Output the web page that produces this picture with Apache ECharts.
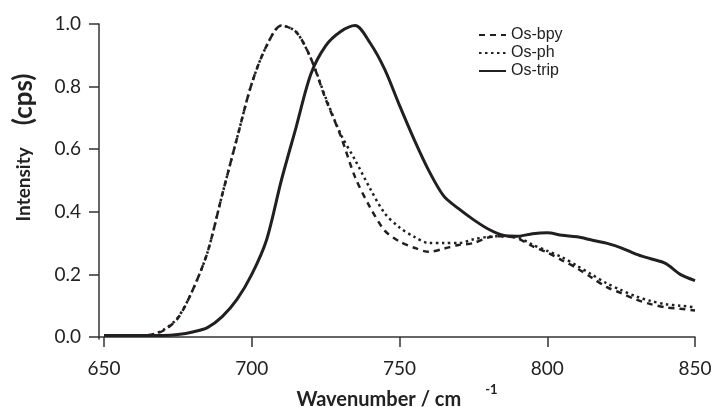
<!DOCTYPE html>
<html>
<head>
<meta charset="utf-8">
<script src="https://cdn.jsdelivr.net/npm/echarts@6/dist/echarts.min.js"></script>
<style>
  html, body { margin: 0; padding: 0; background: #fff; }
  #show_picture { width: 714px; height: 407px; }
</style>
</head>
<body>
<div id="show_picture"></div>
<script>
// wavenumber grid (cm^-1)
const wavenumbers = [650, 655, 660, 665, 670, 675, 680, 685, 690, 695,
  700, 705, 710, 715, 720, 725, 730, 735, 740, 745,
  750, 755, 760, 765, 770, 775, 780, 785, 790, 795,
  800, 805, 810, 815, 820, 825, 830, 835, 840, 845, 850];

const osBpy = [0.005, 0.005, 0.005, 0.006, 0.02, 0.06, 0.15, 0.27, 0.455, 0.635,
  0.81, 0.93, 0.995, 0.975, 0.89, 0.76, 0.645, 0.51, 0.415, 0.34,
  0.305, 0.285, 0.272, 0.282, 0.294, 0.30, 0.318, 0.322, 0.315, 0.29,
  0.27, 0.245, 0.22, 0.19, 0.16, 0.14, 0.12, 0.105, 0.095, 0.09, 0.085];

const osPh = [0.005, 0.005, 0.005, 0.006, 0.022, 0.062, 0.15, 0.27, 0.455, 0.635,
  0.81, 0.93, 0.995, 0.975, 0.89, 0.765, 0.65, 0.565, 0.475, 0.395,
  0.35, 0.32, 0.30, 0.30, 0.30, 0.312, 0.32, 0.322, 0.318, 0.295,
  0.275, 0.255, 0.228, 0.2, 0.172, 0.15, 0.13, 0.115, 0.105, 0.1, 0.095];

const osTrip = [0.005, 0.005, 0.005, 0.005, 0.005, 0.008, 0.016, 0.03, 0.065, 0.12,
  0.2, 0.31, 0.5, 0.67, 0.84, 0.93, 0.975, 0.995, 0.94, 0.855,
  0.74, 0.63, 0.53, 0.45, 0.41, 0.375, 0.345, 0.325, 0.322, 0.33,
  0.333, 0.325, 0.32, 0.31, 0.3, 0.285, 0.265, 0.25, 0.235, 0.2, 0.18];

const xTicks = [650, 700, 750, 800, 850];
const yTicks = [0, 0.2, 0.4, 0.6, 0.8, 1.0];

const seriesNames = ['Os-bpy', 'Os-ph', 'Os-trip'];

let myChart = echarts.init(document.getElementById('show_picture'));

const ink = '#231f20';
const font = 'Lato';

function pairs(ys) {
    return wavenumbers.map((x, i) => [x, ys[i]]);
}

let option = {
    animation: false,
    backgroundColor: '#fff',
    grid: { left: 99, right: 19, top: 24, bottom: 68, outerBoundsMode: 'none' },
    legend: {
        orient: 'vertical',
        left: 473,
        top: 22,
        itemWidth: 27,
        itemHeight: 12,
        itemGap: 2,
        data: seriesNames,
        itemStyle: { opacity: 0 },
        textStyle: { fontFamily: 'Liberation Sans', fontSize: 16, color: '#222' }
    },
    xAxis: {
        type: 'value',
        min: 648.3,
        max: 850,
        name: 'Wavenumber / cm{sup|-1}',
        nameLocation: 'middle',
        nameGap: 43,
        nameTextStyle: {
            fontFamily: font, fontSize: 20, fontWeight: 'bold', color: '#222',
            rich: {
                sup: { fontFamily: font, fontSize: 13, fontWeight: 'bold', color: '#222',
                       padding: [0, 0, 20, 24] }
            }
        },
        splitLine: { show: false },
        axisLine: { lineStyle: { color: '#333', width: 1.5 } },
        axisTick: { customValues: xTicks, length: 10, lineStyle: { color: '#333', width: 1.5 } },
        axisLabel: { customValues: xTicks, margin: 20, fontFamily: font, fontSize: 19, color: '#222' }
    },
    yAxis: {
        type: 'value',
        min: -0.0064,
        max: 1.0,
        name: '{a|Intensity}{s|}{b|(cps)}',
        nameLocation: 'middle',
        nameRotate: 90,
        nameGap: 62,
        nameTextStyle: {
            padding: [0, 0, 0, 68],
            rich: {
                a: { fontFamily: font, fontSize: 19, fontWeight: 'bold', color: '#222' },
                s: { width: 22 },
                b: { fontFamily: font, fontSize: 26, fontWeight: 'bold', color: '#222' }
            }
        },
        splitLine: { show: false },
        axisLine: { show: true, lineStyle: { color: '#333', width: 1.5 } },
        axisTick: { show: true, customValues: yTicks, length: 10, lineStyle: { color: '#333', width: 1.5 } },
        axisLabel: {
            customValues: yTicks, margin: 18, fontFamily: font, fontSize: 19, color: '#222',
            formatter: v => v.toFixed(1)
        }
    },
    series: [
        {
            name: seriesNames[0], type: 'line', data: pairs(osBpy),
            showSymbol: false, symbol: 'none', smooth: 0.3,
            lineStyle: { color: ink, width: 2.5, type: [6, 5] },
            itemStyle: { color: ink }
        },
        {
            name: seriesNames[1], type: 'line', data: pairs(osPh),
            showSymbol: false, symbol: 'none', smooth: 0.3,
            lineStyle: { color: ink, width: 2.5, type: [2.5, 3.5] },
            itemStyle: { color: ink }
        },
        {
            name: seriesNames[2], type: 'line', data: pairs(osTrip),
            showSymbol: false, symbol: 'none', smooth: 0.3,
            lineStyle: { color: ink, width: 3 },
            itemStyle: { color: ink }
        }
    ]
};

option && myChart.setOption(option);
</script>
</body>
</html>
